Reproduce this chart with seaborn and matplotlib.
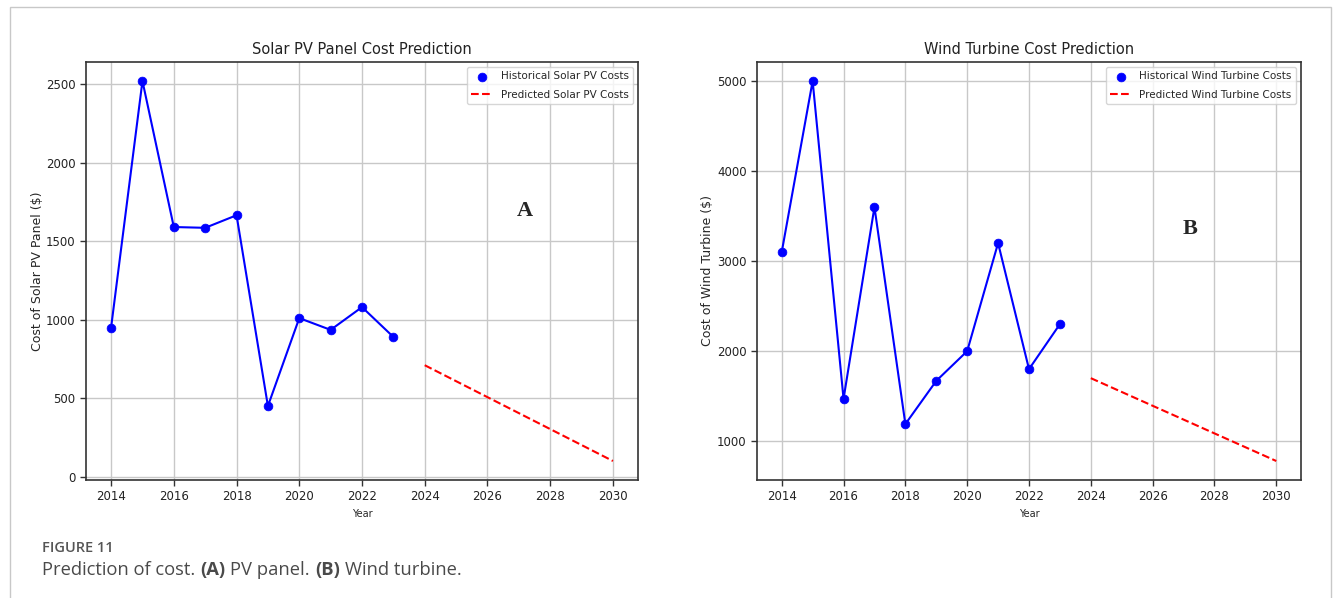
import seaborn as sns
import matplotlib.pyplot as plt
from matplotlib.patches import Rectangle

# Historical data
years = [2014, 2015, 2016, 2017, 2018, 2019, 2020, 2021, 2022, 2023]
solar_costs = [950, 2520, 1590, 1585, 1665, 450, 1010, 935, 1080, 890]
wind_costs = [3100, 5000, 1470, 3600, 1190, 1670, 2000, 3200, 1800, 2300]

# Linear predictions (end points of the dashed lines)
pred_years = [2024, 2030]
solar_pred = [710, 100]
wind_pred = [1700, 780]

x_ticks = list(range(2014, 2031, 2))

sns.set_style('ticks', {'axes.grid': True, 'grid.color': '#c8c8c8',
                        'axes.edgecolor': '#333333'})
plt.rcParams['font.family'] = ['DejaVu Sans']
plt.rcParams['xtick.labelsize'] = 8.5
plt.rcParams['ytick.labelsize'] = 8.5

W, H = 1333, 598
fig = plt.figure(figsize=(W / 100, H / 100), dpi=100)


def panel_axes(left, right, top, bottom):
    return fig.add_axes([left / W, 1 - bottom / H, (right - left) / W, (bottom - top) / H])


ax1 = panel_axes(86, 638, 62, 480)
ax2 = panel_axes(757, 1301, 62, 480)


def draw_panel(ax, hist, pred, name, ylabel, title, letter, letter_pos, ylab_x):
    sns.lineplot(x=years, y=hist, color='blue', linewidth=1.5, ax=ax)
    sns.scatterplot(x=years, y=hist, color='blue', edgecolor='blue', s=40,
                    label='Historical ' + name + ' Costs', ax=ax, zorder=3)
    sns.lineplot(x=pred_years, y=pred, color='red', linestyle='--', linewidth=1.5,
                 label='Predicted ' + name + ' Costs', ax=ax)
    ax.set_xticks(x_ticks)
    ax.set_title(title, fontsize=10.5, color='#222222')
    ax.set_xlabel('Year', fontsize=7)
    ax.set_ylabel(ylabel, fontsize=9)
    ax.yaxis.set_label_coords(ylab_x, 0.5)
    ax.grid(True, color='#c8c8c8', linewidth=1)
    for s in ax.spines.values():
        s.set_linewidth(1.2)
    ax.tick_params(length=4, width=1, color='#333333', labelcolor='#222222')
    ax.legend(loc='upper right', fontsize=7.5, framealpha=0.8, labelspacing=0.8)
    ax.text(letter_pos[0], letter_pos[1], letter, fontsize=16, fontweight='bold',
            family='Liberation Serif', ha='center', va='center')


draw_panel(ax1, solar_costs, solar_pred, 'Solar PV', 'Cost of Solar PV Panel ($)',
           'Solar PV Panel Cost Prediction', 'A', (2027.2, 1690), -0.076)
draw_panel(ax2, wind_costs, wind_pred, 'Wind Turbine', 'Cost of Wind Turbine ($)',
           'Wind Turbine Cost Prediction', 'B', (2027.2, 3360), -0.079)

# Page frame around the figure
fig.add_artist(Rectangle((9.5 / W, -0.2), (1331 - 9.5) / W, 1.2 - 7 / H,
                         transform=fig.transFigure, fill=False, edgecolor='#c8c8c8',
                         linewidth=1))

# Caption
cap_color = '#4a4a4a'
fig.text(42 / W, 1 - 548 / H, 'FIGURE 11', fontsize=10.5, color='#555555',
         family='Open Sans', fontweight='semibold', va='center')
t = fig.text(42 / W, 1 - 570 / H, 'Prediction of cost.', fontsize=13.2, color=cap_color,
             family='Open Sans', va='center')
pieces = [('(A)', 'bold'), ('PV panel.', 'normal'), ('(B)', 'bold'), ('Wind turbine.', 'normal')]
for txt, wt in pieces:
    t = ax1.annotate(txt, xy=(1, 0), xycoords=t, xytext=(3.6, 0), textcoords='offset points',
                     fontsize=13.2, color=cap_color, family='Open Sans', fontweight=wt,
                     va='bottom', ha='left', annotation_clip=False)

fig.savefig('out.png', dpi=100)
